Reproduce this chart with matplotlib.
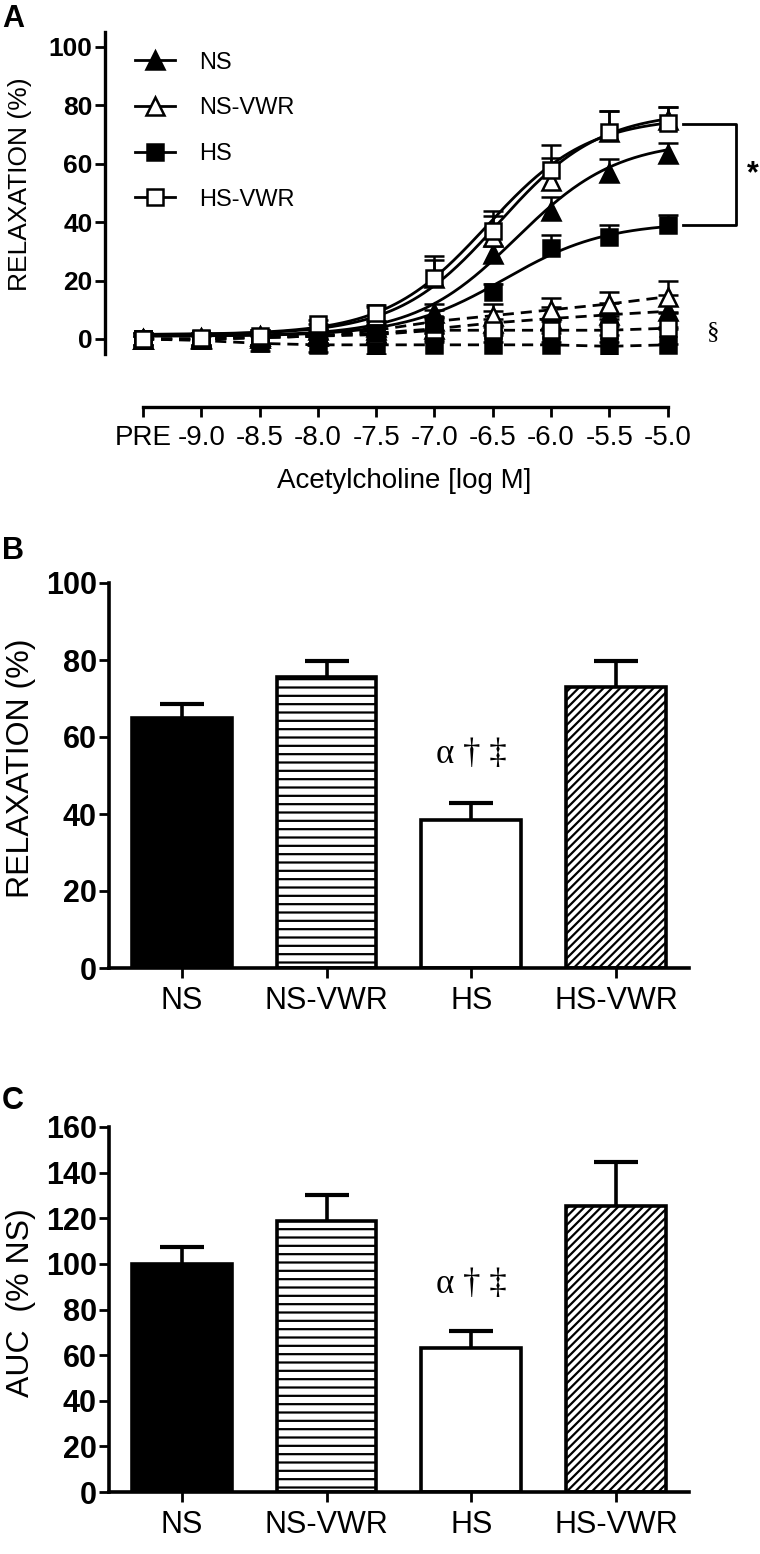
import numpy as np
import matplotlib
matplotlib.use('Agg')
import matplotlib.pyplot as plt
from matplotlib.lines import Line2D

plt.rcParams['font.family'] = ['Liberation Sans', 'DejaVu Sans']
plt.rcParams['hatch.linewidth'] = 1.6

groups = ['NS', 'NS-VWR', 'HS', 'HS-VWR']

# panel A - concentration-response to acetylcholine
log_ach = [-9.5, -9.0, -8.5, -8.0, -7.5, -7.0, -6.5, -6.0, -5.5, -5.0]
ach_labels = ['PRE', '-9.0', '-8.5', '-8.0', '-7.5', '-7.0', '-6.5', '-6.0', '-5.5', '-5.0']

ns = [0, 0.5, 1, 1.5, 4, 9, 29, 44, 57, 63.5]
ns_err = [1, 1, 1.5, 1.5, 2, 3, 3, 4.5, 4.5, 3.5]
ns_vwr = [0, 0.5, 1, 3, 8, 21, 35, 54, 71, 75]
ns_vwr_err = [1, 1, 1.5, 2, 3, 6, 7, 8, 7, 4.5]
hs = [0, 0, 0.5, 1, 2, 5, 16, 31, 35, 39]
hs_err = [1, 1, 1, 1.5, 2, 2.5, 3, 4.5, 4, 3.5]
hs_vwr = [0, 0.5, 1, 5, 9, 21, 37, 58, 71, 74]
hs_vwr_err = [1, 1, 1.5, 1.5, 2.5, 7.5, 7, 8.5, 7, 5.5]

# sigmoid fit parameters (bottom, top, logEC50) for NS, NS-VWR, HS, HS-VWR
fit_bottom = [1, 1.5, 1, 1.5]
fit_top = [68, 78, 40, 76]
fit_logec50 = [-6.3, -6.45, -6.4, -6.55]

# dashed series (§)
ns_d = [0, 0, 0.5, 1, 2, 3.5, 5.5, 7, 8.3, 9.5]
ns_vwr_d = [0, 0, 0.5, 1, 3, 6, 8, 10, 12, 14.5]
hs_d = [0, -0.5, -1.5, -2, -2, -2, -2, -2, -2.5, -2]
hs_vwr_d = [0, 0, 0.5, 1, 1.5, 3, 3, 3, 3, 3.7]
d_err = [2, 2, 2.5, 2.5, 3, 4, 4, 4, 4, 5.5]

# panel B - max relaxation, panel C - AUC
emax = [65, 75.5, 38.5, 73]
emax_err = [3.5, 4.2, 4.3, 6.7]
auc = [100, 119, 63, 125.5]
auc_err = [7.5, 11, 7.5, 19]

W, H = 760, 1554
fig = plt.figure(figsize=(W / 100, H / 100), dpi=100)


def px_axes(l, t, r, b):
    return fig.add_axes([l / W, 1 - b / H, (r - l) / W, (b - t) / H])


def bold_yticks(ax, size):
    for lbl in ax.get_yticklabels():
        lbl.set_fontweight('bold')
        lbl.set_fontsize(size)


mk = ['^', '^', 's', 's']
fc = ['k', 'w', 'k', 'w']
ms = [13, 13, 12, 12]

# ---------------- A
axA = px_axes(105, 32.4, 760, 353.6)
xs = np.linspace(-9.5, -5.0, 300)

for vals, m, f, s in zip([ns_d, ns_vwr_d, hs_d, hs_vwr_d], mk, fc, ms):
    axA.plot(log_ach, vals, color='k', lw=2, ls=(0, (4, 2.5)), zorder=2)
    axA.errorbar(log_ach, vals, yerr=d_err, fmt=m, ms=s, mfc=f, mec='k', mew=1.8,
                 ecolor='k', elinewidth=1.8, capsize=7, capthick=1.8, zorder=2)

solid = [(ns, ns_err), (ns_vwr, ns_vwr_err), (hs, hs_err), (hs_vwr, hs_vwr_err)]
for i, (vals, err) in enumerate(solid):
    curve = fit_bottom[i] + (fit_top[i] - fit_bottom[i]) / (1 + 10 ** (fit_logec50[i] - xs))
    axA.plot(xs, curve, color='k', lw=2, zorder=3)
    eb = axA.errorbar(log_ach, vals, yerr=[np.zeros(len(err)), err], fmt=mk[i], ms=ms[i],
                      mfc=fc[i], mec='k', mew=1.8, ecolor='k', elinewidth=1.8,
                      capsize=7, capthick=1.8, zorder=4)
    eb[1][0].set_visible(False)

axA.set_xlim(-9.826, -4.208)
axA.set_ylim(-5, 105)
axA.spines['top'].set_visible(False)
axA.spines['right'].set_visible(False)
axA.spines['bottom'].set_position(('outward', 38.5))
axA.spines['bottom'].set_bounds(-9.5, -5.0)
for sp in ['left', 'bottom']:
    axA.spines[sp].set_linewidth(2.4)
axA.set_xticks(log_ach, ach_labels)
axA.set_yticks(range(0, 101, 20))
axA.tick_params(length=7, width=2, labelsize=20, pad=2)
axA.tick_params(axis='x', pad=6)
bold_yticks(axA, 19)
axA.set_xlabel('Acetylcholine [log M]', fontsize=20)
axA.xaxis.set_label_coords((404 - 105) / 655, (353.6 - 468) / 321.2)
axA.set_ylabel('RELAXATION (%)', fontsize=19)
axA.yaxis.set_label_coords((32 - 105) / 655, 0.528)

handles = [Line2D([], [], color='k', lw=2, marker=m, ms=s, mfc=f, mec='k', mew=1.8)
           for m, f, s in zip(mk, fc, ms)]
axA.legend(handles, groups, loc='upper left', bbox_to_anchor=(0.046, 0.94),
           frameon=False, fontsize=17, handlelength=1.7, handletextpad=1.0,
           labelspacing=1.0, borderpad=0, borderaxespad=0)

# bracket between HS-VWR/NS-VWR and HS at -5.0
y_hi = max(ns_vwr[-1], hs_vwr[-1]) - 1.5
y_lo = hs[-1]
x0 = log_ach[-1] + 0.13
x1 = log_ach[-1] + 0.59
axA.plot([x0, x1, x1, x0], [y_hi, y_hi, y_lo, y_lo], color='k', lw=2, clip_on=False)
axA.text(x1 + 0.14, (y_hi + y_lo) / 2, '*', fontsize=22, fontweight='bold',
         ha='center', va='center')
axA.text(log_ach[-1] + 0.39, np.mean([ns_d[-1], hs_d[-1], hs_vwr_d[-1]]) - 1.5, '§',
         fontsize=18, family='Liberation Serif', ha='center', va='center')


# ---------------- B and C
def bar_panel(ax, vals, err, ymax, ylabel, note_y):
    x = np.arange(len(groups))
    faces = ['k', 'w', 'w', 'w']
    hatches = [None, '--', None, '////']
    for xi, v, f, h in zip(x, vals, faces, hatches):
        ax.bar(xi, v, width=0.69, color=f, edgecolor='k', linewidth=2.6, hatch=h, zorder=2)
    eb = ax.errorbar(x, vals, yerr=[np.zeros(len(err)), err], fmt='none', ecolor='k',
                     elinewidth=2.6, capsize=16, capthick=3, zorder=3)
    eb[1][0].set_visible(False)
    ax.set_xlim(-0.5, 3.5)
    ax.set_ylim(0, ymax)
    ax.spines['top'].set_visible(False)
    ax.spines['right'].set_visible(False)
    for sp in ['left', 'bottom']:
        ax.spines[sp].set_linewidth(2.6)
    ax.set_xticks(x, groups)
    ax.set_yticks(range(0, ymax + 1, 20))
    ax.tick_params(length=7, width=2, labelsize=22, pad=2)
    ax.tick_params(axis='x', pad=6)
    bold_yticks(ax, 22)
    ax.set_ylabel(ylabel, fontsize=23)
    ax.yaxis.set_label_coords((36 - 109.3) / 579.2, 0.52)
    ax.text(2, note_y, 'α † ‡', fontsize=25, family='Liberation Serif',
            ha='center', va='center')


axB = px_axes(109.3, 583, 688.5, 968)
bar_panel(axB, emax, emax_err, 100, 'RELAXATION (%)', emax[2] + 17)

axC = px_axes(109.3, 1127, 688.5, 1492)
bar_panel(axC, auc, auc_err, 160, 'AUC  (% NS)', auc[2] + 28)

for lbl, top in [('A', 4), ('B', 536), ('C', 1086)]:
    fig.text(2 / W, 1 - top / H, lbl, fontsize=22, fontweight='bold', ha='left', va='top')

fig.savefig('out.png', dpi=100)
